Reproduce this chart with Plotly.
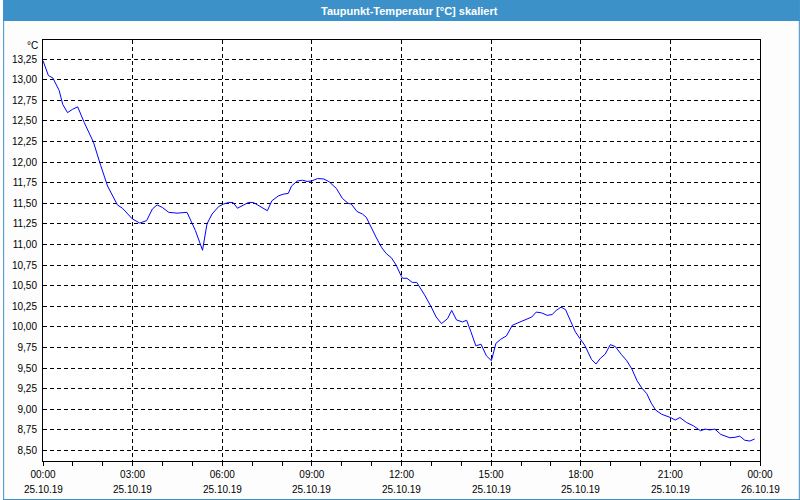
import plotly.graph_objects as go

# ---- data (hours after 25.10.19 00:00, dew point in °C) ----
hours = [0.00, 0.18, 0.33, 0.54, 0.66, 0.82, 0.99, 1.16, 1.38, 1.69, 1.93, 2.16, 2.49, 2.66, 2.99,
         3.24, 3.47, 3.66, 3.82, 3.99, 4.21, 4.49, 4.82, 5.10, 5.24, 5.34, 5.49, 5.66, 5.88, 6.04,
         6.21, 6.36, 6.51, 6.66, 6.88, 7.04, 7.32, 7.51, 7.66, 7.88, 8.04, 8.21, 8.32, 8.51, 8.69,
         8.84, 8.99, 9.19, 9.40, 9.58, 9.82, 10.02, 10.21, 10.32, 10.51, 10.69, 10.82, 10.99, 11.16,
         11.34, 11.49, 11.66, 11.82, 12.00, 12.04, 12.18, 12.36, 12.51, 12.77, 12.99, 13.16, 13.34,
         13.54, 13.68, 13.84, 14.04, 14.18, 14.32, 14.49, 14.66, 14.84, 15.01, 15.16, 15.32, 15.51,
         15.71, 15.93, 16.16, 16.36, 16.51, 16.69, 16.88, 17.04, 17.18, 17.34, 17.49, 17.66, 17.82,
         17.97, 18.13, 18.36, 18.51, 18.66, 18.82, 18.99, 19.16, 19.36, 19.54, 19.71, 19.88, 20.04,
         20.21, 20.36, 20.51, 20.71, 20.88, 21.01, 21.16, 21.32, 21.54, 21.77, 22.01, 22.16, 22.32,
         22.49, 22.69, 22.99, 23.16, 23.32, 23.49, 23.66, 23.82]
values = [13.23, 13.05, 13.02, 12.87, 12.70, 12.60, 12.64, 12.67, 12.48, 12.24, 11.96, 11.71, 11.48, 11.44, 11.31,
          11.26, 11.29, 11.43, 11.48, 11.45, 11.39, 11.38, 11.39, 11.17, 11.03, 10.93, 11.25, 11.37, 11.46, 11.49,
          11.51, 11.51, 11.44, 11.47, 11.51, 11.51, 11.45, 11.41, 11.53, 11.59, 11.61, 11.62, 11.71, 11.77, 11.78,
          11.765, 11.77, 11.80, 11.795, 11.76, 11.68, 11.56, 11.50, 11.49, 11.40, 11.37, 11.33, 11.20, 11.08,
          10.96, 10.89, 10.84, 10.75, 10.61, 10.59, 10.59, 10.54, 10.54, 10.39, 10.245, 10.12, 10.04,
          10.10, 10.20, 10.085, 10.06, 10.08, 9.945, 9.77, 9.79, 9.65, 9.59, 9.80, 9.85, 9.89,
          10.02, 10.055, 10.09, 10.12, 10.18, 10.17, 10.14, 10.15, 10.20, 10.24, 10.21, 10.06, 9.94,
          9.86, 9.78, 9.605, 9.55, 9.62, 9.67, 9.785, 9.76, 9.665, 9.59, 9.49, 9.35, 9.26,
          9.19, 9.075, 8.99, 8.94, 8.92, 8.90, 8.87, 8.90, 8.84, 8.80, 8.74, 8.76, 8.75,
          8.76, 8.695, 8.655, 8.66, 8.675, 8.625, 8.615, 8.64]

x_tick_hours = [0, 3, 6, 9, 12, 15, 18, 21, 24]
x_tick_times = ["00:00", "03:00", "06:00", "09:00", "12:00", "15:00", "18:00", "21:00", "00:00"]
x_tick_dates = ["25.10.19", "25.10.19", "25.10.19", "25.10.19", "25.10.19",
                "25.10.19", "25.10.19", "25.10.19", "26.10.19"]
y_unit = "°C"
chart_title = "Taupunkt-Temperatur [°C] skaliert"

# ---- geometry helpers (figure pixels -> paper coords) ----
W, H = 800, 500
L, R, T, B = 40, 40, 40, 39
PW, PH = W - L - R, H - T - B


def px(p):
    return (p - L) / PW


def py(p):
    return (H - B - p) / PH


FONT = "Liberation Sans, Arial, sans-serif"
BLUE_BAR = "rgb(60,145,200)"

fig = go.Figure()
fig.add_trace(go.Scatter(x=hours, y=values, mode="lines",
                         line=dict(color="#0000ff", width=1), showlegend=False,
                         hoverinfo="x+y"))

fig.update_layout(
    width=W, height=H,
    margin=dict(l=L, r=R, t=T, b=B, pad=0),
    paper_bgcolor="#fcfdfc",
    plot_bgcolor="#ffffff",
    separators=",.",
    font=dict(family=FONT, size=10, color="#000000"),
    showlegend=False,
)

fig.update_xaxes(
    range=[0, 24],
    tickmode="array", tickvals=x_tick_hours, ticktext=x_tick_times,
    ticks="outside", ticklen=4, tickcolor="#000000", tickwidth=1,
    showline=True, mirror=True, linecolor="#000000", linewidth=1,
    showgrid=True, gridcolor="#000000", gridwidth=1, griddash="4px,3px",
    zeroline=False,
    tickfont=dict(family=FONT, size=10, color="#000000"),
    minor=dict(tickmode="linear", tick0=0, dtick=1, ticks="outside",
               ticklen=4, tickcolor="#000000", showgrid=False),
)
fig.update_yaxes(
    range=[8.373, 13.481],
    tickmode="linear", tick0=8.5, dtick=0.25, tickformat=".2f",
    ticks="", showline=True, mirror=True, linecolor="#000000", linewidth=1,
    showgrid=True, gridcolor="#000000", gridwidth=1, griddash="4px,3px",
    zeroline=False, ticklabelstandoff=3,
    tickfont=dict(family=FONT, size=10, color="#000000"),
)

shapes = [
    # title bar
    dict(type="rect", xref="paper", yref="paper", x0=px(0), x1=px(W), y0=py(21), y1=py(0),
         fillcolor=BLUE_BAR, line=dict(width=0), layer="below"),
    # outer blue frame
    dict(type="line", xref="paper", yref="paper", x0=px(0.5), x1=px(0.5), y0=py(0), y1=py(H),
         line=dict(color=BLUE_BAR, width=1)),
    dict(type="line", xref="paper", yref="paper", x0=px(W - 0.5), x1=px(W - 0.5), y0=py(0), y1=py(H),
         line=dict(color=BLUE_BAR, width=1)),
    dict(type="line", xref="paper", yref="paper", x0=px(0), x1=px(W), y0=py(H - 0.5), y1=py(H - 0.5),
         line=dict(color=BLUE_BAR, width=1)),
]
fig.update_layout(shapes=shapes)

annotations = [
    dict(text="<b>" + chart_title + "</b>", xref="paper", yref="paper", x=px(408), y=py(10.5),
         xanchor="center", yanchor="middle", showarrow=False,
         font=dict(family=FONT, size=11, color="#ffffff")),
    dict(text=y_unit, xref="paper", yref="paper", x=px(37), y=py(45),
         xanchor="right", yanchor="middle", showarrow=False,
         font=dict(family=FONT, size=10, color="#000000")),
]
for hx, d in zip(x_tick_hours, x_tick_dates):
    annotations.append(dict(text=d, xref="x", yref="paper", x=hx, y=py(489),
                            xanchor="center", yanchor="middle", showarrow=False,
                            font=dict(family=FONT, size=10, color="#000000")))
fig.update_layout(annotations=annotations)

fig.write_html("out.html")
